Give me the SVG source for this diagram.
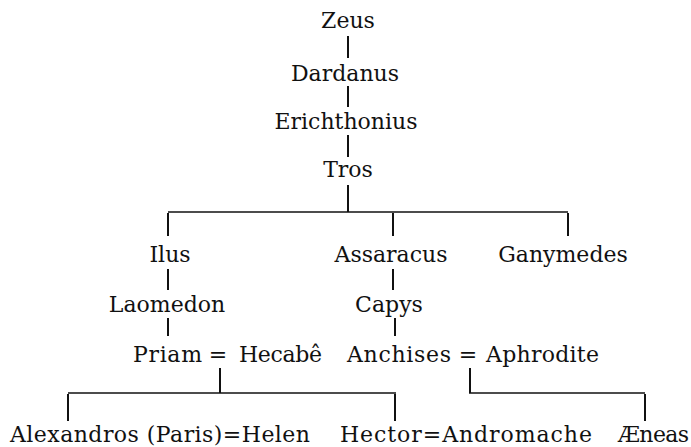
<svg xmlns="http://www.w3.org/2000/svg" width="691" height="447" viewBox="0 0 691 447">
<style>
  text { font-family: "DejaVu Serif", "Liberation Serif", serif; font-size: 22px; fill: #111; }
  .c { text-anchor: middle; }
  .v { stroke: #111; stroke-width: 2; fill: none; }
  .h { stroke: #111; stroke-width: 1.5; fill: none; }
</style>
<rect width="691" height="447" fill="#fff"/>
<g id="connectors">
  <line class="v" x1="348" y1="36" x2="348" y2="58"/>
  <line class="v" x1="348" y1="86" x2="348" y2="107"/>
  <line class="v" x1="348" y1="135" x2="348" y2="157"/>
  <line class="v" x1="348" y1="185" x2="348" y2="212"/>
  <line class="h" x1="168" y1="212" x2="568" y2="212"/>
  <line class="v" x1="168" y1="213" x2="168" y2="236"/>
  <line class="v" x1="393" y1="213" x2="393" y2="236"/>
  <line class="v" x1="568" y1="213" x2="568" y2="236"/>
  <line class="v" x1="168" y1="269" x2="168" y2="290"/>
  <line class="v" x1="393" y1="269" x2="393" y2="290"/>
  <line class="v" x1="168" y1="318" x2="168" y2="336"/>
  <line class="v" x1="395" y1="318" x2="395" y2="336"/>
  <text class="c" x="218" y="362">=</text>
  <text class="c" x="468" y="362">=</text>
  <line class="v" x1="220" y1="368" x2="220" y2="393"/>
  <line class="v" x1="470" y1="368" x2="470" y2="393"/>
  <line class="h" x1="68" y1="393" x2="396" y2="393"/>
  <line class="h" x1="469" y1="393" x2="645" y2="393"/>
  <line class="v" x1="68" y1="394" x2="68" y2="421"/>
  <line class="v" x1="395" y1="394" x2="395" y2="421"/>
  <line class="v" x1="645" y1="394" x2="645" y2="421"/>
</g>
<g id="zeus"><text class="c" x="348" y="28">Zeus</text></g>
<g id="dardanus"><text class="c" x="345" y="81">Dardanus</text></g>
<g id="erichthonius"><text class="c" x="346" y="129">Erichthonius</text></g>
<g id="tros"><text class="c" x="348" y="177">Tros</text></g>
<g id="ilus"><text class="c" x="170" y="262">Ilus</text></g>
<g id="assaracus"><text class="c" x="391" y="262">Assaracus</text></g>
<g id="ganymedes"><text class="c" x="563" y="262">Ganymedes</text></g>
<g id="laomedon"><text class="c" x="167" y="312">Laomedon</text></g>
<g id="capys"><text class="c" x="389" y="312">Capys</text></g>
<g id="priam"><text x="133" y="362" textLength="69" lengthAdjust="spacing">Priam</text></g>
<g id="hecabe"><text x="239" y="362" textLength="83" lengthAdjust="spacing">Hecabê</text></g>
<g id="anchises"><text x="347" y="362" textLength="104" lengthAdjust="spacing">Anchises</text></g>
<g id="aphrodite"><text x="486" y="362" textLength="113" lengthAdjust="spacing">Aphrodite</text></g>
<g id="alexandros"><text x="10" y="442" textLength="300" lengthAdjust="spacing">Alexandros (Paris)=Helen</text></g>
<g id="hector"><text x="340" y="442" textLength="252" lengthAdjust="spacing">Hector=Andromache</text></g>
<g id="aeneas"><text x="618" y="442" textLength="71" lengthAdjust="spacing">Æneas</text></g>
</svg>
